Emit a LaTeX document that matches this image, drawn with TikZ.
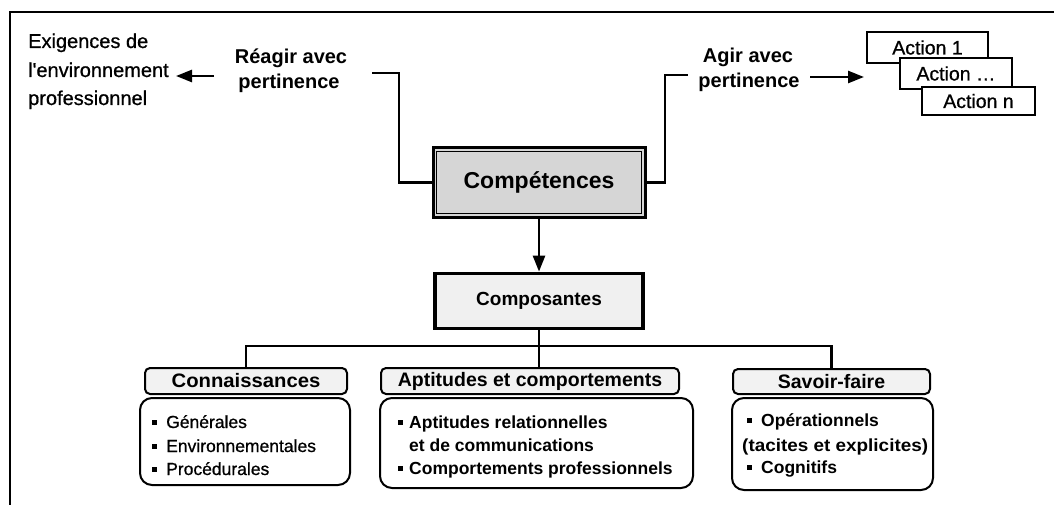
\documentclass[tikz,border=0pt]{standalone}
\usepackage{fontspec}
\usepackage{graphicx}
\setmainfont{Liberation Sans}
\newfontfamily\medf{Liberation Sans}[FakeBold=0.8]
\usetikzlibrary{arrows.meta}
\newcommand\fsz[1]{\fontsize{#1}{#1}\selectfont}
\newcommand\bul{\rule[3.5pt]{5pt}{5pt}}
\begin{document}
\begin{tikzpicture}[x=1pt,y=-1pt,
  txt/.style={inner sep=0pt, anchor=base west},
  ctxt/.style={inner sep=0pt, anchor=base},
  arr/.style={line width=2.6pt, -{Triangle[length=16pt,width=12pt]}},
  conn/.style={line width=2.2pt},
  actbox/.style={draw, line width=1.8pt, fill=white, inner sep=0pt, font=\medf\fsz{19.5}},
  hdr/.style={draw, line width=2pt, rounded corners=5pt, fill=black!5, inner sep=0pt, font=\fsz{19.5}\bfseries},
  bodybox/.style={draw, line width=2pt, rounded corners=12pt, inner sep=0pt}
]
\useasboundingbox (0,0) rectangle (1054,505);
% frame
\draw[line width=2pt] (10,505) -- (10,12) -- (1054,12);

% left texts
\node[txt, font=\medf\fsz{20}] (e1) at (28,48) {Exigences de};
\node[txt, font=\medf\fsz{20}] (e2) at (28,77) {l'environnement};
\node[txt, font=\medf\fsz{20}] (e3) at (28,105) {professionnel};
\node[ctxt, font=\fsz{20}\bfseries] (r1) at (291,64) {Réagir avec};
\node[ctxt, font=\fsz{20}\bfseries] (r2) at (289,89) {pertinence};

% right texts
\node[ctxt, font=\fsz{20}\bfseries] (a1) at (748,63) {Agir avec};
\node[ctxt, font=\fsz{20}\bfseries] (a2) at (749,88) {pertinence};

% action boxes
\node[actbox, minimum width=121pt, minimum height=31pt] (act1) at (927.5,47.5) {Action 1};
\node[actbox, minimum width=112pt, minimum height=31pt] (act2) at (956,73.5) {Action \dots};
\node[actbox, minimum width=113pt, minimum height=28pt] (act3) at (978.5,101) {Action n};

% Competences
\node[draw, line width=3pt, fill=black!16, minimum width=212pt, minimum height=69pt, inner sep=0pt,
      font=\fsz{23}\bfseries] (comp) at (539,182.5) {Compétences};
\draw[line width=1.2pt] ([shift={(5,5)}]comp.north west) rectangle ([shift={(-5,-5)}]comp.south east);

% Composantes
\node[draw, line width=3.8pt, fill=black!6, minimum width=208pt, minimum height=55pt, inner sep=0pt,
      font=\fsz{19}\bfseries] (compo) at (539,301) {Composantes};

% connectors top
\coordinate (lstart) at (214,76);
\coordinate (lend) at (176,76);
\draw[arr] (lstart) -- (lend);
\coordinate (rstart) at (372,73);
\draw[conn] (rstart) -- (399,73) |- (comp.west);
\coordinate (aend) at (688,75);
\draw[conn] (comp.east) -| (665,75) -- (aend);
\coordinate (rastart) at (810,77);
\coordinate (raend) at (864,77);
\draw[arr] (rastart) -- (raend);
\draw[arr] (comp.south) -- (compo.north);

% headers
\node[hdr, minimum width=202pt, minimum height=26pt] (connh) at (246,381) {\scalebox{1.04}[1]{Connaissances}};
\node[hdr, minimum width=298pt, minimum height=26pt] (apth) at (530,381) {Aptitudes et comportements};
\node[hdr, minimum width=197pt, minimum height=25pt] (sfh) at (831.5,381.5) {Savoir-faire};

% tree
\draw[conn] (compo.south) -- (compo.south |- apth.north);
\draw[conn] (connh.north) -- ++(0,-21) -| (sfh.north);

% bodies
\node[bodybox, minimum width=210pt, minimum height=87pt] (connb) at (245,441.5) {};
\node[bodybox, minimum width=313pt, minimum height=90pt] (aptb) at (536.5,443) {};
\node[bodybox, minimum width=201pt, minimum height=92pt] (sfb) at (832.5,444) {};

% body texts
\node[txt, font=\medf\fsz{17.5}] (c1) at (152,428) {\bul\hspace{9pt}Générales};
\node[txt, font=\medf\fsz{17.5}] (c2) at (152,452) {\bul\hspace{9pt}Environnementales};
\node[txt, font=\medf\fsz{17.5}] (c3) at (152,475) {\bul\hspace{9pt}Procédurales};

\node[txt, font=\fsz{17.5}\bfseries] (p1) at (398,428) {\bul\hspace{6pt}Aptitudes relationnelles};
\node[txt, font=\fsz{17.5}\bfseries] (p2) at (409,451) {et de communications};
\node[txt, font=\fsz{17.5}\bfseries] (p3) at (398,474) {\bul\hspace{6pt}Comportements professionnels};

\node[txt, font=\fsz{17.5}\bfseries] (s1) at (747,426) {\bul\hspace{9pt}Opérationnels};
\node[txt, font=\fsz{17.5}\bfseries] (s2) at (742,451) {\scalebox{1.08}[1]{(tacites et explicites)}};
\node[txt, font=\fsz{17.5}\bfseries] (s3) at (747,473) {\bul\hspace{9pt}Cognitifs};
\end{tikzpicture}
\end{document}
